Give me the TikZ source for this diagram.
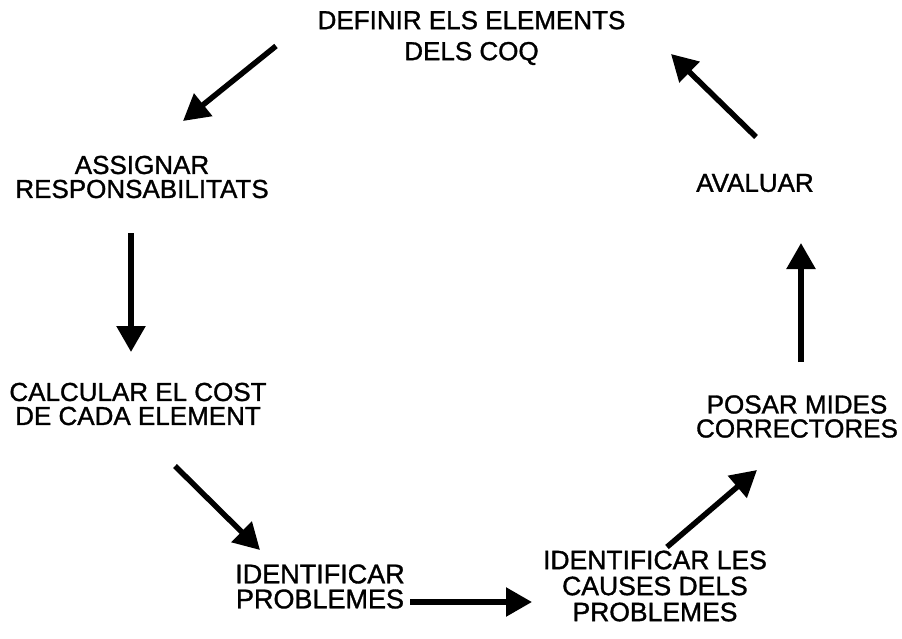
\documentclass[tikz,border=0pt]{standalone}
\usepackage{fontspec}
\setmainfont[FakeBold=1.2]{Liberation Sans}
\usetikzlibrary{arrows.meta}

\begin{document}
\begin{tikzpicture}[x=1pt,y=-1pt,
  label/.style={inner sep=0pt,align=center,font=\fontsize{26}{24}\selectfont},
  flow/.style={line width=5.5pt,-{Triangle[length=26pt,width=28pt]}}]
  \useasboundingbox (0,0) rectangle (902,638);

  % stages of the cycle
  \node[label,font=\fontsize{26}{31}\selectfont] (def) at (471.5,38) {DEFINIR ELS ELEMENTS\\DELS COQ};
  \node[label] (assig) at (142,177) {ASSIGNAR\\RESPONSABILITATS};
  \node[label] (calc) at (138,404) {CALCULAR EL COST\\DE CADA ELEMENT};
  \node[label,font=\fontsize{27}{25}\selectfont] (ident) at (320,586.5) {IDENTIFICAR\\PROBLEMES};
  \node[label,font=\fontsize{26.5}{26}\selectfont] (causes) at (655,586) {IDENTIFICAR LES\\CAUSES DELS\\PROBLEMES};
  \node[label] (posar) at (797,416.5) {POSAR MIDES\\CORRECTORES};
  \node[label] (aval) at (755,183) {AVALUAR};

  % arrow ends between the stages
  \coordinate (a1s) at (276,46);   \coordinate (a1e) at (183,121);
  \coordinate (a2s) at (131,233);  \coordinate (a2e) at (131,352);
  \coordinate (a3s) at (175,466);  \coordinate (a3e) at (260,550);
  \coordinate (a4s) at (410,602);  \coordinate (a4e) at (532,602);
  \coordinate (a5s) at (667,547);  \coordinate (a5e) at (757,470);
  \coordinate (a6s) at (801,362);  \coordinate (a6e) at (801,243);
  \coordinate (a7s) at (756,137);  \coordinate (a7e) at (671,54);

  \draw[flow] (a1s) -- (a1e);
  \draw[flow] (a2s) -- (a2e);
  \draw[flow] (a3s) -- (a3e);
  \draw[flow] (a4s) -- (a4e);
  \draw[flow] (a5s) -- (a5e);
  \draw[flow] (a6s) -- (a6e);
  \draw[flow] (a7s) -- (a7e);
\end{tikzpicture}
\end{document}
